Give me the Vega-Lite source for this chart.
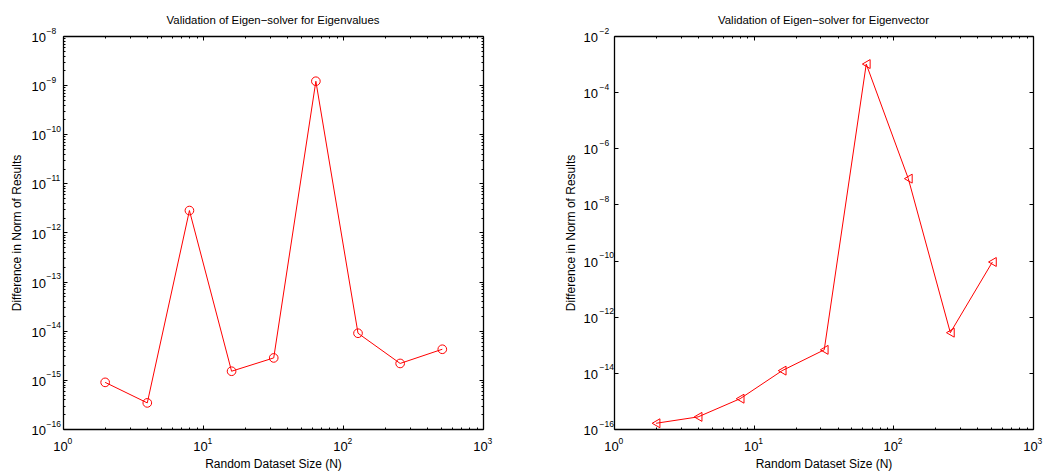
{
  "$schema": "https://vega.github.io/schema/vega-lite/v6.json",
  "padding": {"left": 10, "top": 14, "right": 5, "bottom": 5},
  "bounds": "flush",
  "spacing": 131,
  "config": {
    "font": "Liberation Sans",
    "view": {"stroke": null},
    "axis": {
      "grid": false,
      "domainColor": "black",
      "domainWidth": 1.3,
      "tickColor": "black",
      "tickWidth": 1,
      "labelColor": "black",
      "labelFontSize": 13,
      "labelFlush": false,
      "labelOverlap": false,
      "labelBound": false,
      "titleFontSize": 12,
      "titleFontWeight": "normal",
      "titleColor": "black"
    },
    "title": {"fontSize": 11.4, "fontWeight": "normal", "color": "black", "offset": 0.01}
  },
  "datasets": {
    "eigenvalues": [
      {"N": 2, "diff": 8.9e-16},
      {"N": 4, "diff": 3.4e-16},
      {"N": 8, "diff": 2.8e-12},
      {"N": 16, "diff": 1.5e-15},
      {"N": 32, "diff": 2.8e-15},
      {"N": 64, "diff": 1.2e-9},
      {"N": 128, "diff": 8.9e-15},
      {"N": 256, "diff": 2.16e-15},
      {"N": 512, "diff": 4.2e-15}
    ],
    "eigenvector": [
      {"N": 2, "diff": 1.6e-16},
      {"N": 4, "diff": 2.7e-16},
      {"N": 8, "diff": 1.2e-15},
      {"N": 16, "diff": 1.2e-14},
      {"N": 32, "diff": 6.6e-14},
      {"N": 64, "diff": 1.0e-3},
      {"N": 128, "diff": 8.3e-8},
      {"N": 256, "diff": 2.7e-13},
      {"N": 512, "diff": 8.9e-11}
    ]
  },
  "hconcat": [
    {
      "width": 420,
      "height": 393,
      "title": "Validation of Eigen\u2212solver for Eigenvalues",
      "data": {"name": "eigenvalues"},
      "resolve": {"axis": {"x": "independent", "y": "independent"}},
      "layer": [
        {
          "mark": {"type": "line", "color": "#ff0000", "strokeWidth": 1},
          "encoding": {
            "x": {
              "field": "N", "type": "quantitative",
              "scale": {"type": "log", "domain": [1, 1000], "nice": false},
              "axis": {
                "orient": "bottom",
                "title": "Random Dataset Size (N)",
                "values": [1,2,3,4,5,6,7,8,9,10,20,30,40,50,60,70,80,90,100,200,300,400,500,600,700,800,900,1000],
                "labelExpr": "abs(log(datum.value)/LN10 - round(log(datum.value)/LN10)) < 0.001 ? '10' : ''",
                "tickSize": {"condition": {"test": "abs(log(datum.value)/LN10 - round(log(datum.value)/LN10)) < 0.001", "value": -4}, "value": -2},
                "labelPadding": 15,
                "labelOffset": -3,
                "titlePadding": 3
              }
            },
            "y": {
              "field": "diff", "type": "quantitative",
              "scale": {"type": "log", "domain": [1e-16, 1e-8], "nice": false},
              "axis": {
                "orient": "left",
                "title": "Difference in Norm of Results",
                "values": [1e-16,2e-16,3e-16,4e-16,5e-16,6e-16,7e-16,8e-16,9e-16,1e-15,2e-15,3e-15,4e-15,5e-15,6e-15,7e-15,8e-15,9e-15,1e-14,2e-14,3e-14,4e-14,5e-14,6e-14,7e-14,8e-14,9e-14,1e-13,2e-13,3e-13,4e-13,5e-13,6e-13,7e-13,8e-13,9e-13,1e-12,2e-12,3e-12,4e-12,5e-12,6e-12,7e-12,8e-12,9e-12,1e-11,2e-11,3e-11,4e-11,5e-11,6e-11,7e-11,8e-11,9e-11,1e-10,2e-10,3e-10,4e-10,5e-10,6e-10,7e-10,8e-10,9e-10,1e-9,2e-9,3e-9,4e-9,5e-9,6e-9,7e-9,8e-9,9e-9,1e-8],
                "labelExpr": "abs(log(datum.value)/LN10 - round(log(datum.value)/LN10)) < 0.001 ? '10' : ''",
                "tickSize": {"condition": {"test": "abs(log(datum.value)/LN10 - round(log(datum.value)/LN10)) < 0.001", "value": -4}, "value": -2},
                "labelAlign": "left",
                "labelPadding": 36,
                "labelOffset": 1.5,
                "titlePadding": 6
              }
            }
          }
        },
        {
          "mark": {"type": "point", "shape": "circle", "filled": false, "color": "#ff0000", "strokeWidth": 1, "size": 75, "opacity": 1},
          "encoding": {
            "x": {
              "field": "N", "type": "quantitative",
              "scale": {"type": "log", "domain": [1, 1000], "nice": false},
              "axis": {
                "orient": "top", "title": null, "labels": false,
                "values": [1,2,3,4,5,6,7,8,9,10,20,30,40,50,60,70,80,90,100,200,300,400,500,600,700,800,900,1000],
                "tickSize": {"condition": {"test": "abs(log(datum.value)/LN10 - round(log(datum.value)/LN10)) < 0.001", "value": -4}, "value": -2}
              }
            },
            "y": {
              "field": "diff", "type": "quantitative",
              "scale": {"type": "log", "domain": [1e-16, 1e-8], "nice": false},
              "axis": {
                "orient": "right", "title": null, "labels": false,
                "values": [1e-16,2e-16,3e-16,4e-16,5e-16,6e-16,7e-16,8e-16,9e-16,1e-15,2e-15,3e-15,4e-15,5e-15,6e-15,7e-15,8e-15,9e-15,1e-14,2e-14,3e-14,4e-14,5e-14,6e-14,7e-14,8e-14,9e-14,1e-13,2e-13,3e-13,4e-13,5e-13,6e-13,7e-13,8e-13,9e-13,1e-12,2e-12,3e-12,4e-12,5e-12,6e-12,7e-12,8e-12,9e-12,1e-11,2e-11,3e-11,4e-11,5e-11,6e-11,7e-11,8e-11,9e-11,1e-10,2e-10,3e-10,4e-10,5e-10,6e-10,7e-10,8e-10,9e-10,1e-9,2e-9,3e-9,4e-9,5e-9,6e-9,7e-9,8e-9,9e-9,1e-8],
                "tickSize": {"condition": {"test": "abs(log(datum.value)/LN10 - round(log(datum.value)/LN10)) < 0.001", "value": -4}, "value": -2}
              }
            }
          }
        },
        {
          "mark": {"type": "point", "opacity": 0},
          "encoding": {
            "x": {
              "field": "N", "type": "quantitative",
              "scale": {"type": "log", "domain": [1, 1000], "nice": false},
              "axis": {
                "orient": "bottom", "title": null, "domain": false,
                "tickSize": 0, "tickOpacity": 0,
                "values": [1, 10, 100, 1000],
                "labelExpr": "replace(format(round(log(datum.value)/LN10), 'd'), '-', '\u2212')",
                "labelFontSize": 8.5,
                "labelAlign": "left",
                "labelOffset": 4,
                "labelPadding": 7
              }
            },
            "y": {
              "field": "diff", "type": "quantitative",
              "scale": {"type": "log", "domain": [1e-16, 1e-8], "nice": false},
              "axis": {
                "orient": "left", "title": null, "domain": false,
                "tickSize": 0, "tickOpacity": 0,
                "values": [1e-16, 1e-15, 1e-14, 1e-13, 1e-12, 1e-11, 1e-10, 1e-9, 1e-8],
                "labelExpr": "replace(format(round(log(datum.value)/LN10), 'd'), '-', '\u2212')",
                "labelFontSize": 8.5,
                "labelAlign": "left",
                "labelOffset": -6,
                "labelPadding": 17
              }
            }
          }
        }
      ]
    },
    {
      "width": 419,
      "height": 393,
      "title": "Validation of Eigen\u2212solver for Eigenvector",
      "data": {"name": "eigenvector"},
      "resolve": {"axis": {"x": "independent", "y": "independent"}},
      "layer": [
        {
          "mark": {"type": "line", "color": "#ff0000", "strokeWidth": 1},
          "encoding": {
            "x": {
              "field": "N", "type": "quantitative",
              "scale": {"type": "log", "domain": [1, 1000], "nice": false},
              "axis": {
                "orient": "bottom",
                "title": "Random Dataset Size (N)",
                "values": [1,2,3,4,5,6,7,8,9,10,20,30,40,50,60,70,80,90,100,200,300,400,500,600,700,800,900,1000],
                "labelExpr": "abs(log(datum.value)/LN10 - round(log(datum.value)/LN10)) < 0.001 ? '10' : ''",
                "tickSize": {"condition": {"test": "abs(log(datum.value)/LN10 - round(log(datum.value)/LN10)) < 0.001", "value": -4}, "value": -2},
                "labelPadding": 15,
                "labelOffset": -3,
                "titlePadding": 3
              }
            },
            "y": {
              "field": "diff", "type": "quantitative",
              "scale": {"type": "log", "domain": [1e-16, 1e-2], "nice": false},
              "axis": {
                "orient": "left",
                "title": "Difference in Norm of Results",
                "values": [1e-16,1e-14,1e-12,1e-10,1e-8,1e-6,1e-4,1e-2],
                "labelExpr": "'10'",
                "tickSize": -4,
                "labelAlign": "left",
                "labelPadding": 35,
                "labelOffset": 1.5,
                "titlePadding": 6
              }
            }
          }
        },
        {
          "mark": {"type": "point", "shape": "triangle-left", "filled": false, "color": "#ff0000", "strokeWidth": 1, "size": 80, "opacity": 1},
          "encoding": {
            "x": {
              "field": "N", "type": "quantitative",
              "scale": {"type": "log", "domain": [1, 1000], "nice": false},
              "axis": {
                "orient": "top", "title": null, "labels": false,
                "values": [1,2,3,4,5,6,7,8,9,10,20,30,40,50,60,70,80,90,100,200,300,400,500,600,700,800,900,1000],
                "tickSize": {"condition": {"test": "abs(log(datum.value)/LN10 - round(log(datum.value)/LN10)) < 0.001", "value": -4}, "value": -2}
              }
            },
            "y": {
              "field": "diff", "type": "quantitative",
              "scale": {"type": "log", "domain": [1e-16, 1e-2], "nice": false},
              "axis": {
                "orient": "right", "title": null, "labels": false,
                "values": [1e-16,1e-14,1e-12,1e-10,1e-8,1e-6,1e-4,1e-2],
                "tickSize": -4
              }
            }
          }
        },
        {
          "mark": {"type": "point", "opacity": 0},
          "encoding": {
            "x": {
              "field": "N", "type": "quantitative",
              "scale": {"type": "log", "domain": [1, 1000], "nice": false},
              "axis": {
                "orient": "bottom", "title": null, "domain": false,
                "tickSize": 0, "tickOpacity": 0,
                "values": [1, 10, 100, 1000],
                "labelExpr": "replace(format(round(log(datum.value)/LN10), 'd'), '-', '\u2212')",
                "labelFontSize": 8.5,
                "labelAlign": "left",
                "labelOffset": 4,
                "labelPadding": 7
              }
            },
            "y": {
              "field": "diff", "type": "quantitative",
              "scale": {"type": "log", "domain": [1e-16, 1e-2], "nice": false},
              "axis": {
                "orient": "left", "title": null, "domain": false,
                "tickSize": 0, "tickOpacity": 0,
                "values": [1e-16,1e-14,1e-12,1e-10,1e-8,1e-6,1e-4,1e-2],
                "labelExpr": "replace(format(round(log(datum.value)/LN10), 'd'), '-', '\u2212')",
                "labelFontSize": 8.5,
                "labelAlign": "left",
                "labelOffset": -6,
                "labelPadding": 15
              }
            }
          }
        }
      ]
    }
  ]
}
